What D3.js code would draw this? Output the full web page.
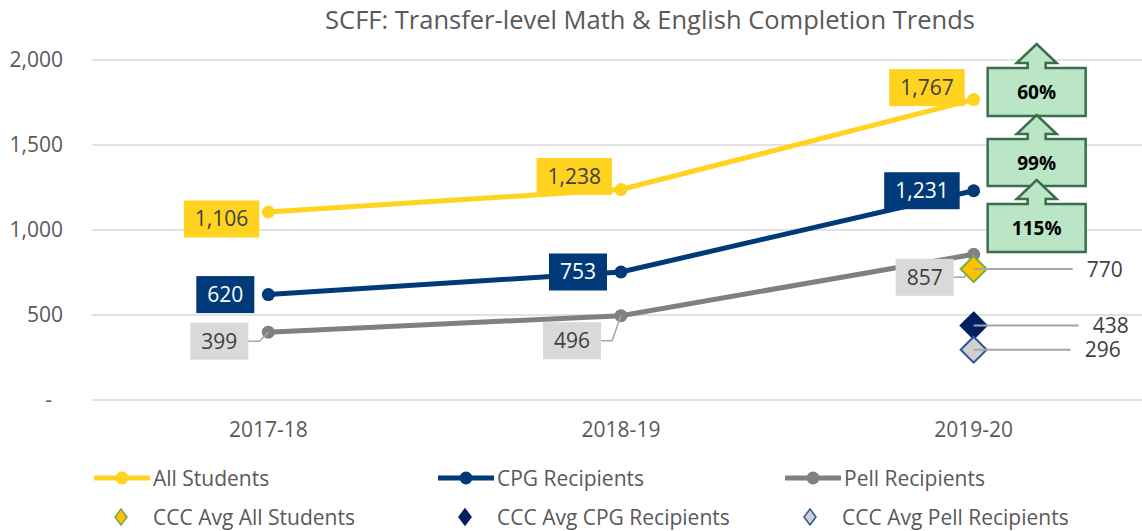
<!DOCTYPE html>
<html>
<head>
<meta charset="utf-8">
<script src="https://cdn.jsdelivr.net/npm/d3@7"></script>
<style>
  body { margin: 0; background: #fff; }
  text { font-family: "Open Sans", sans-serif; }
</style>
</head>
<body>
<div id="chart"></div>
<script>
// data
var years = ["2017-18", "2018-19", "2019-20"];
var allStudents = [1106, 1238, 1767];
var cpgRecipients = [620, 753, 1231];
var pellRecipients = [399, 496, 857];
var cccAvg = [770, 438, 296];          // All Students, CPG, Pell (2019-20)
var growthLabels = ["60%", "99%", "115%"];
var yTicks = [0, 500, 1000, 1500, 2000];

var W = 1142, H = 531;
var margin = { top: 60, right: -8, bottom: 131, left: 92 };
var width = W - margin.left - margin.right,
    height = H - margin.top - margin.bottom;

var svg = d3.select("#chart")
    .append("svg")
    .attr("width", W)
    .attr("height", H);

var g = svg.append("g")
    .attr("transform", "translate(" + margin.left + "," + margin.top + ")");

var x = d3.scaleBand().domain(years).range([0, width]);
var cx = function (i) { return x(years[i]) + x.bandwidth() / 2; };
var y = d3.scaleLinear().domain([0, 2000]).range([height, 0]);

// title
svg.append("text")
    .attr("x", 650)
    .attr("y", 29)
    .attr("text-anchor", "middle")
    .style("font-size", "25.5px")
    .style("fill", "#595959")
    .text("SCFF: Transfer-level Math & English Completion Trends");

// gridlines
g.selectAll(".grid")
    .data(yTicks)
    .enter().append("line")
    .attr("x1", 0).attr("x2", width)
    .attr("y1", function (d) { return y(d); })
    .attr("y2", function (d) { return y(d); })
    .style("stroke", "#D9D9D9")
    .style("stroke-width", 1.5);

// y axis labels
var yAxis = g.append("g")
    .call(d3.axisLeft(y).tickValues(yTicks).tickSize(0).tickPadding(29)
        .tickFormat(function (d) { return d === 0 ? "-" : d3.format(",")(d); }));
yAxis.select(".domain").remove();
yAxis.selectAll("text")
    .style("font-size", "21px")
    .style("fill", "#595959")
    .style("font-family", "'Open Sans', sans-serif");
yAxis.selectAll("text").filter(function (d) { return d === 0; }).attr("dx", -11);

// x axis labels
var xAxis = g.append("g")
    .attr("transform", "translate(0," + height + ")")
    .call(d3.axisBottom(x).tickSize(0).tickPadding(22));
xAxis.select(".domain").remove();
xAxis.selectAll("text")
    .style("font-size", "21px")
    .style("fill", "#595959")
    .style("font-family", "'Open Sans', sans-serif");

var series = [
    { name: "All Students", values: allStudents, color: "#FFD320", labelFill: "#FFD320", labelText: "#404040" },
    { name: "CPG Recipients", values: cpgRecipients, color: "#003A78", labelFill: "#003A78", labelText: "#FFFFFF" },
    { name: "Pell Recipients", values: pellRecipients, color: "#808080", labelFill: "#D9D9D9", labelText: "#404040" }
];

// label placement (vertical shift of label box from its point)
var labelShift = [[7, -13, -12], [0, 0, 0], [9, 25, 23]];

var line = d3.line()
    .x(function (d, i) { return cx(i); })
    .y(function (d) { return y(d); });

series.forEach(function (s, si) {
    g.append("path")
        .datum(s.values)
        .attr("d", line)
        .style("fill", "none")
        .style("stroke", s.color)
        .style("stroke-width", 5);

    g.selectAll(".pt" + si)
        .data(s.values)
        .enter().append("circle")
        .attr("cx", function (d, i) { return cx(i); })
        .attr("cy", function (d) { return y(d); })
        .attr("r", 6.5)
        .style("fill", s.color);
});

// data labels
series.forEach(function (s, si) {
    s.values.forEach(function (v, i) {
        var px = cx(i), py = y(v);
        var txt = d3.format(",")(v);
        var gap = si === 2 ? 20 : 9;
        if (si === 1) gap = 14;
        var t = g.append("text")
            .attr("text-anchor", "middle")
            .style("font-size", "21px")
            .style("fill", s.labelText)
            .text(txt);
        var tw = t.node().getComputedTextLength();
        var bw = tw + 22, bh = 37;
        var right = px - gap;
        var cy = py + labelShift[si][i];
        if (si === 2) {
            g.append("polyline")
                .attr("points", [[right, cy], [right + 11, cy], [px, py]].join(" "))
                .style("fill", "none")
                .style("stroke", "#A6A6A6")
                .style("stroke-width", 1.5);
        }
        g.insert("rect", function () { return t.node(); })
            .attr("x", right - bw).attr("y", cy - bh / 2)
            .attr("width", bw).attr("height", bh)
            .style("fill", s.labelFill);
        t.attr("x", right - bw / 2).attr("y", cy + 7.5);
    });
});

// CCC average diamonds
var diamonds = [
    { fill: "#FFC000", stroke: "#70AD47", lineEnd: 99, textX: 113 },
    { fill: "#002060", stroke: "#002060", lineEnd: 105, textX: 119 },
    { fill: "#D0D0D0", stroke: "#2F5597", lineEnd: 97, textX: 111 }
];
cccAvg.forEach(function (v, i) {
    var px = cx(2), py = y(v), d = diamonds[i];
    g.append("path")
        .attr("d", "M0,-13L13,0L0,13L-13,0Z")
        .attr("transform", "translate(" + px + "," + py + ")")
        .style("fill", d.fill)
        .style("stroke", d.stroke)
        .style("stroke-width", 2);
    g.append("line")
        .attr("x1", px).attr("x2", px + d.lineEnd)
        .attr("y1", py).attr("y2", py)
        .style("stroke", "#A6A6A6")
        .style("stroke-width", 2);
    g.append("text")
        .attr("x", px + d.textX)
        .attr("y", py + 7.5)
        .style("font-size", "21px")
        .style("fill", "#404040")
        .text(d3.format(",")(v));
});

// growth arrow callouts (2019-20 vs 2017-18)
var boxTops = [68, 139, 204];
var boxH = [48, 47, 48];
growthLabels.forEach(function (lbl, i) {
    var bx = cx(2) + 14, bw = 98;
    var top = boxTops[i] - margin.top, bot = top + boxH[i];
    var mid = bx + bw / 2;
    var tip = top - 24, neck = top - 5;
    var pts = [
        [bx, top], [mid - 9, top], [mid - 9, neck], [mid - 20, neck], [mid, tip],
        [mid + 20, neck], [mid + 9, neck], [mid + 9, top], [bx + bw, top],
        [bx + bw, bot], [bx, bot]
    ];
    g.append("polygon")
        .attr("points", pts.join(" "))
        .style("fill", "#BBE6C5")
        .style("stroke", "#3B6E4E")
        .style("stroke-width", 2.5)
        .style("stroke-linejoin", "miter");
    g.append("text")
        .attr("x", mid)
        .attr("y", (top + bot) / 2 + 7)
        .attr("text-anchor", "middle")
        .style("font-size", "19px")
        .style("font-weight", "bold")
        .style("fill", "#000")
        .text(lbl);
});

// legend
var leg = svg.append("g");
var row1 = [{ x: 94, s: series[0] }, { x: 438, s: series[1] }, { x: 785, s: series[2] }];
row1.forEach(function (r) {
    leg.append("line")
        .attr("x1", r.x).attr("x2", r.x + 56)
        .attr("y1", 478).attr("y2", 478)
        .style("stroke", r.s.color).style("stroke-width", 5);
    leg.append("circle")
        .attr("cx", r.x + 28).attr("cy", 478).attr("r", 6.5)
        .style("fill", r.s.color);
    leg.append("text")
        .attr("x", r.x + 59).attr("y", 485.5)
        .style("font-size", "21px").style("fill", "#595959")
        .text(r.s.name);
});
var row2 = ["CCC Avg All Students", "CCC Avg CPG Recipients", "CCC Avg Pell Recipients"];
var row2x = [121, 465, 810];
row2.forEach(function (name, i) {
    var d = diamonds[i];
    leg.append("path")
        .attr("d", "M0,-8L6,0L0,8L-6,0Z")
        .attr("transform", "translate(" + row2x[i] + ",517)")
        .style("fill", d.fill).style("stroke", d.stroke).style("stroke-width", 1.5);
    leg.append("text")
        .attr("x", row2x[i] + 32).attr("y", 524.5)
        .style("font-size", "21px").style("fill", "#595959")
        .text(name);
});
</script>
</body>
</html>
